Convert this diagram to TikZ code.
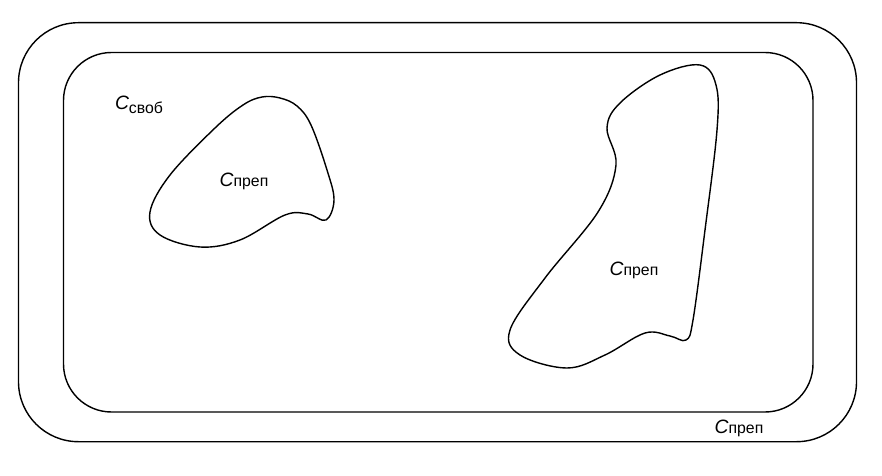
\documentclass[tikz,border=0pt]{standalone}
\usepackage{fontspec}
\setmainfont{Liberation Sans}
\tikzset{l/.style={font=\fontsize{9}{9}\selectfont, inner sep=0pt}}
\tikzset{b/.style={line width=0.8pt}}
\newcommand{\bigc}{{\fontsize{11}{11}\selectfont\itshape C}}
\newcommand{\cprep}{\bigc преп}

\begin{document}
\begin{tikzpicture}[x=0.02cm,y=-0.02cm]
  \useasboundingbox (0,0) rectangle (882,476);
  % outer and inner frames
  \draw[b,rounded corners=1.2cm] (18.5,22.7) rectangle (856.5,441.7);
  \draw[b,rounded corners=0.96cm] (63.5,52.5) rectangle (813,412);
  % left blob
  \draw[b] plot[smooth cycle, tension=0.6] coordinates {(262,97) (280,98) (297,106) (311,125) (327,170) (334,200) (326,220) (308,214) (285,215) (240,240) (200,247) (160,235) (150,212) (170,175) (215,128) (243,105)};
  % right blob
  \draw[b] plot[smooth cycle, tension=0.6] coordinates {(700,65) (716,85) (717,130) (705,230) (693,320) (686,340) (670,336) (645,333) (605,355) (567,368) (520,355) (510,330) (545,278) (598,212) (616,165) (607,128) (620,103) (660,75)};
  \node[l] (free) at (139,105) {\bigc\raisebox{-0.4ex}{своб}};
  \node[l] (prep1) at (244,181) {\cprep};
  \node[l] (prep2) at (634,270) {\cprep};
  \node[l] (prep3) at (739,428) {\cprep};
\end{tikzpicture}
\end{document}
